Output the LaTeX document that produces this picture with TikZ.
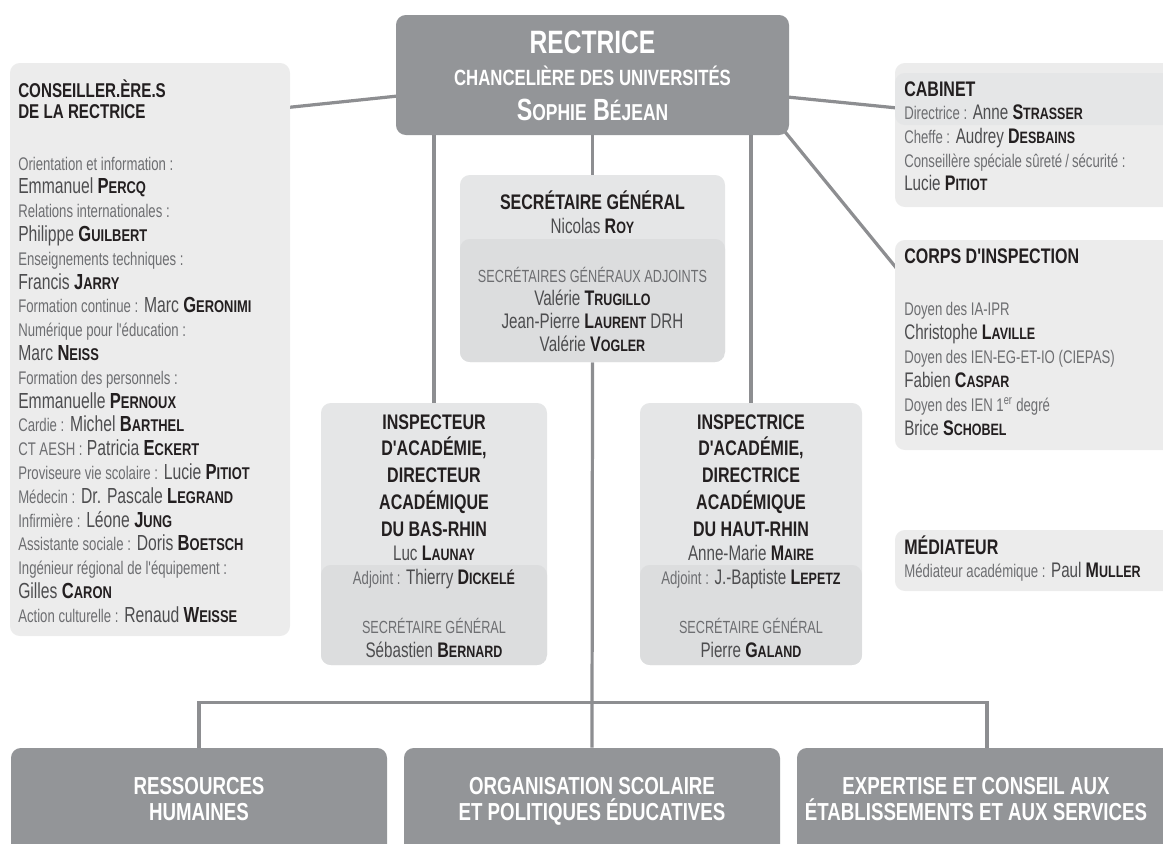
\documentclass[tikz,border=0pt]{standalone}
\usepackage{fontspec}
\usepackage{graphicx}
\newfontfamily\lightf{Liberation Sans}[FakeStretch=0.72]
\newfontfamily\boldf{Liberation Sans Bold}[FakeStretch=0.76]
\usetikzlibrary{
  backgrounds,
  calc,
  fit,
  positioning
}
\definecolor{orgDark}{HTML}{939598}
\definecolor{orgLight}{HTML}{ECECEC}
\definecolor{orgBand}{HTML}{E5E6E7}
\definecolor{orgLow}{HTML}{DCDDDE}
\definecolor{orgLine}{HTML}{8D8E91}
\definecolor{orgLabel}{HTML}{6D6E71}
\definecolor{orgName}{HTML}{4D4D4F}
\definecolor{orgInk}{HTML}{231F20}
% small text, caps text and bold surnames
\newcommand\lab[1]{{\lightf\fontsize{13}{15}\selectfont\color{orgLabel}#1}}
\newcommand\capl[1]{{\lightf\fontsize{12.5}{15}\selectfont\color{orgLabel}#1}}
\newcommand\sn[2]{{\boldf\color{orgInk}#1\scalebox{0.78}{#2}}}
\tikzset{
  orgLink/.style={orgLine, line width=2.3pt},
  darkBox/.style={fill=orgDark, rounded corners=7pt, inner sep=0pt},
  lightBox/.style={fill=orgLight, rounded corners=7pt, inner sep=0pt},
  splitBox/.style={
    fill=orgBand, rounded corners=7pt, inner sep=0pt,
    path picture={\fill[orgLow]
      ($(path picture bounding box.north west)+(0,#1)$) rectangle
      (path picture bounding box.south east);}
  },
  bandBox/.style 2 args={
    fill=orgLight, rounded corners=7pt, inner sep=0pt,
    path picture={\fill[orgBand]
      ($(path picture bounding box.north west)+(0,#1)$) rectangle
      ($(path picture bounding box.north east)+(0,#2)$);}
  },
  titleText/.style={font=\boldf\fontsize{15}{18}\selectfont, text=orgInk,
    inner sep=0pt},
  nameText/.style={font=\lightf\fontsize{15}{18}\selectfont, text=orgName,
    inner sep=0pt},
  whiteText/.style={font=\boldf\fontsize{17.5}{20}\selectfont, text=white,
    inner sep=0pt}
}
\begin{document}
\begin{tikzpicture}[x=0.025cm,y=-0.025cm]
  \useasboundingbox (0,0) rectangle (1163,843);
  \clip (0,0) rectangle (1163,843);
  % boxes
  \node[darkBox, fit={(396,15) (789,135)}] (rect) {};
  \node[lightBox, fit={(10,63) (290,636)}] (cons) {};
  \node[bandBox={10}{62}, fit={(895,63) (1177,207)}] (cab) {};
  \node[lightBox, fit={(895,240) (1177,450)}] (corps) {};
  \node[lightBox, fit={(895,530) (1177,591)}] (med) {};
  \node[splitBox=64, fit={(460,175) (725,362)}] (sg) {};
  \node[splitBox=162, fit={(321,403) (547,665)}] (insp1) {};
  \node[splitBox=162, fit={(640,403) (862,665)}] (insp2) {};
  \node[darkBox, fit={(11,748) (387,880)}] (bot1) {};
  \node[darkBox, fit={(404,748) (780,880)}] (bot2) {};
  \node[darkBox, fit={(797,748) (1177,880)}] (bot3) {};
  % connectors
  \begin{scope}[on background layer]
    \draw[orgLink] ($(cons.north east)+(-5,45)$) -- ($(rect.north west)+(5,81)$);
    \draw[orgLink] ($(rect.north east)+(-5,82)$) -- ($(cab.north west)+(5,45.5)$);
    \draw[orgLink] ($(rect.south east)+(-8,-8)$) -- ($(corps.north west)+(3,30)$);
    \draw[orgLink] (rect.south) -- (sg.north);
    \draw[orgLink] (rect.south -| insp1.north) -- (insp1.north);
    \draw[orgLink] (rect.south -| insp2.north) -- (insp2.north);
    \draw[orgLink] (sg.south) -- (bot2.north);
    \draw[orgLink] (bot1.north) -- ++(0,-45) -| (bot3.north);
  \end{scope}
  % rectrice
  \node[whiteText, font=\boldf\fontsize{23}{26}\selectfont, anchor=base]
    (rectTitle) at (592.5,53) {RECTRICE};
  \node[whiteText, font=\boldf\fontsize{15.7}{18}\selectfont, anchor=base]
    (rectRole) at (592.5,85) {CHANCELIÈRE DES UNIVERSITÉS};
  \node[whiteText, font=\boldf\fontsize{21.8}{24}\selectfont, anchor=base]
    (rectName) at (592.5,120) {S\scalebox{0.75}{OPHIE} B\scalebox{0.75}{ÉJEAN}};
  % conseillers
  \node[titleText, font=\boldf\fontsize{14.2}{17}\selectfont, anchor=base west]
    (consTitleA) at (18,97) {CONSEILLER.ÈRE.S};
  \node[titleText, font=\boldf\fontsize{14.2}{17}\selectfont, anchor=base west]
    (consTitleB) at (18,118) {DE LA RECTRICE};
  \foreach \row [count=\i from 0] in {
    {\lab{Orientation et information :}},
    {Emmanuel \sn{P}{ERCQ}},
    {\lab{Relations internationales :}},
    {Philippe \sn{G}{UILBERT}},
    {\lab{Enseignements techniques :}},
    {Francis \sn{J}{ARRY}},
    {\lab{Formation continue :} Marc \sn{G}{ERONIMI}},
    {\lab{Numérique pour l'éducation :}},
    {Marc \sn{N}{EISS}},
    {\lab{Formation des personnels :}},
    {Emmanuelle \sn{P}{ERNOUX}},
    {\lab{Cardie :} Michel \sn{B}{ARTHEL}},
    {\lab{CT AESH :} Patricia \sn{E}{CKERT}},
    {\lab{Proviseure vie scolaire :} Lucie \sn{P}{ITIOT}},
    {\lab{Médecin :} Dr. Pascale \sn{L}{EGRAND}},
    {\lab{Infirmière :} Léone \sn{J}{UNG}},
    {\lab{Assistante sociale :} Doris \sn{B}{OETSCH}},
    {\lab{Ingénieur régional de l'équipement :}},
    {Gilles \sn{C}{ARON}},
    {\lab{Action culturelle :} Renaud \sn{W}{EISSE}}} {
    \node[nameText, font=\lightf\fontsize{15.5}{18}\selectfont,
      anchor=base west] (cons\i) at (18,170+23.8*\i) {\row};
  }
  % cabinet
  \node[titleText, anchor=base west] (cabTitle) at (904,96) {CABINET};
  \node[nameText, anchor=base west] (cabA) at (904,119)
    {\lab{Directrice :} Anne \sn{S}{TRASSER}};
  \node[nameText, anchor=base west] (cabB) at (904,143)
    {\lab{Cheffe :} Audrey \sn{D}{ESBAINS}};
  \node[nameText, anchor=base west] (cabC) at (904,167)
    {\lab{Conseillère spéciale sûreté\,/\,sécurité :}};
  \node[nameText, anchor=base west] (cabD) at (904,190) {Lucie \sn{P}{ITIOT}};
  % corps d'inspection
  \node[titleText, anchor=base west] (corpsTitle) at (904,263)
    {CORPS D'INSPECTION};
  \foreach \row [count=\i from 0] in {
    {\lab{Doyen des IA-IPR}},
    {Christophe \sn{L}{AVILLE}},
    {\lab{Doyen des IEN-EG-ET-IO (CIEPAS)}},
    {Fabien \sn{C}{ASPAR}},
    {\lab{Doyen des IEN 1\textsuperscript{er} degré}},
    {Brice \sn{S}{CHOBEL}}} {
    \node[nameText, anchor=base west] (corps\i) at (904,315+24*\i) {\row};
  }
  % mediateur
  \node[titleText, anchor=base west] (medTitle) at (904,554) {MÉDIATEUR};
  \node[nameText, anchor=base west] (medA) at (904,577)
    {\lab{Médiateur académique :} Paul \sn{M}{ULLER}};
  % secretaire general
  \node[titleText, anchor=base] (sgTitle) at (592.5,209)
    {SECRÉTAIRE GÉNÉRAL};
  \node[nameText, anchor=base] (sgName) at (592.5,233) {Nicolas \sn{R}{OY}};
  \node[nameText, anchor=base] (sgAdj) at (592.5,282)
    {\capl{SECRÉTAIRES GÉNÉRAUX ADJOINTS}};
  \node[nameText, anchor=base] (sgAdjA) at (592.5,305)
    {Valérie \sn{T}{RUGILLO}};
  \node[nameText, anchor=base] (sgAdjB) at (592.5,328)
    {Jean-Pierre \sn{L}{AURENT} DRH};
  \node[nameText, anchor=base] (sgAdjC) at (592.5,351)
    {Valérie \sn{V}{OGLER}};
  % bas-rhin
  \foreach \row [count=\i from 0] in {INSPECTEUR, {D'ACADÉMIE,}, DIRECTEUR,
    ACADÉMIQUE, DU BAS-RHIN} {
    \node[titleText, anchor=base] (inspA\i) at (434,429+26.75*\i) {\row};
  }
  \node[nameText, anchor=base] (inspAName) at (434,560) {Luc \sn{L}{AUNAY}};
  \node[nameText, anchor=base] (inspAAdj) at (434,584)
    {\lab{Adjoint :} Thierry \sn{D}{ICKELÉ}};
  \node[nameText, anchor=base] (inspASg) at (434,633)
    {\capl{SECRÉTAIRE GÉNÉRAL}};
  \node[nameText, anchor=base] (inspASgName) at (434,657)
    {Sébastien \sn{B}{ERNARD}};
  % haut-rhin
  \foreach \row [count=\i from 0] in {INSPECTRICE, {D'ACADÉMIE,}, DIRECTRICE,
    ACADÉMIQUE, DU HAUT-RHIN} {
    \node[titleText, anchor=base] (inspB\i) at (751,429+26.75*\i) {\row};
  }
  \node[nameText, anchor=base] (inspBName) at (751,560)
    {Anne-Marie \sn{M}{AIRE}};
  \node[nameText, anchor=base] (inspBAdj) at (751,584)
    {\lab{Adjoint :} J.-Baptiste \sn{L}{EPETZ}};
  \node[nameText, anchor=base] (inspBSg) at (751,633)
    {\capl{SECRÉTAIRE GÉNÉRAL}};
  \node[nameText, anchor=base] (inspBSgName) at (751,657)
    {Pierre \sn{G}{ALAND}};
  % directions
  \node[whiteText, anchor=base] (botA1) at (199,794) {RESSOURCES};
  \node[whiteText, anchor=base] (botA2) at (199,820) {HUMAINES};
  \node[whiteText, anchor=base] (botB1) at (592,794) {ORGANISATION SCOLAIRE};
  \node[whiteText, anchor=base] (botB2) at (592,820)
    {ET POLITIQUES ÉDUCATIVES};
  \node[whiteText, anchor=base] (botC1) at (976,794)
    {EXPERTISE ET CONSEIL AUX};
  \node[whiteText, anchor=base] (botC2) at (976,820)
    {ÉTABLISSEMENTS ET AUX SERVICES};
\end{tikzpicture}
\end{document}
